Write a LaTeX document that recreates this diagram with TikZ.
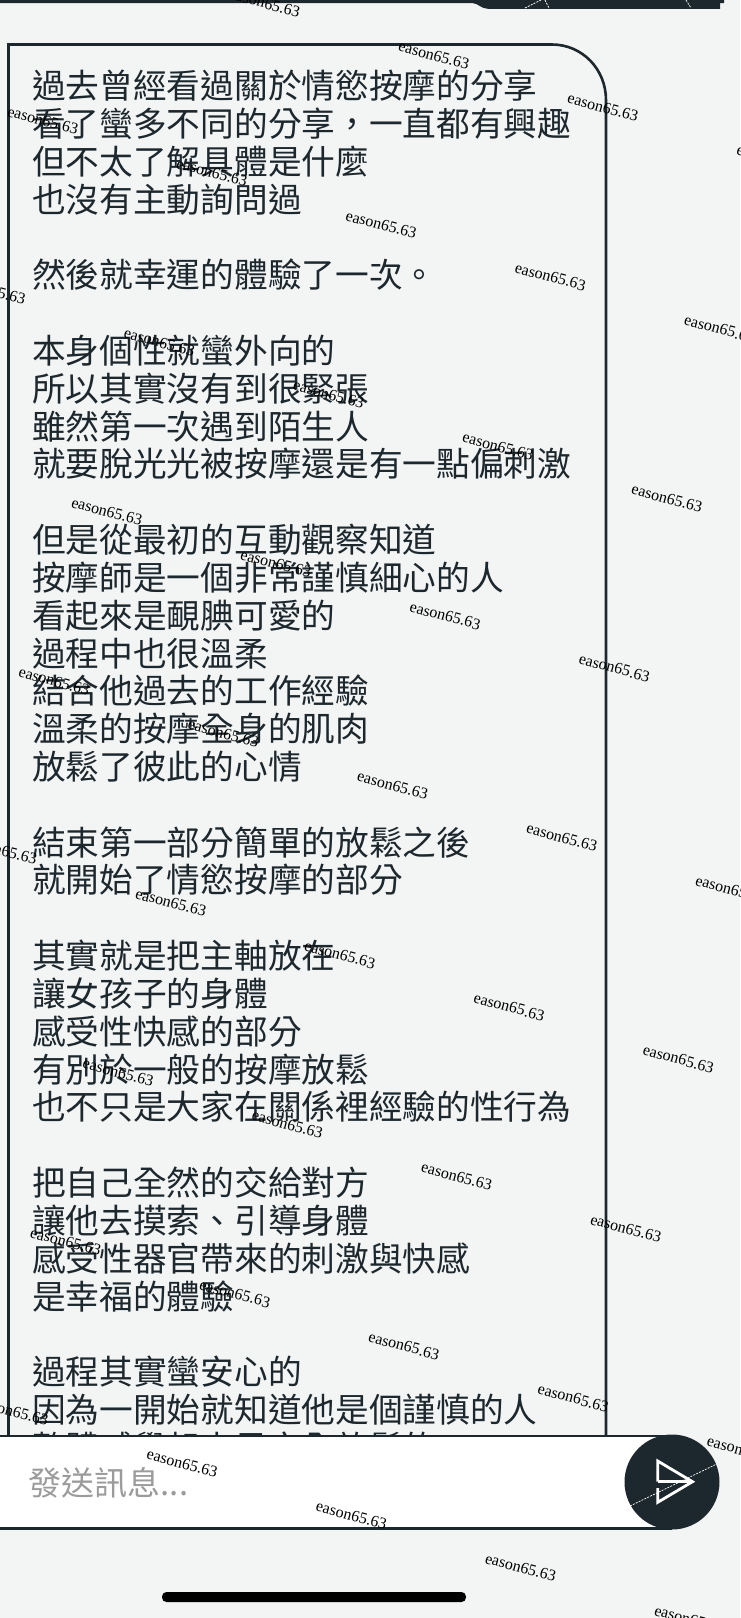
\documentclass[tikz,border=0pt]{standalone}
\usepackage{fontspec}
\usepackage{xcolor}
\setmainfont{Liberation Serif}
\newfontfamily\chatfont{Noto Sans CJK TC}
\definecolor{page-bg}{HTML}{F3F4F4}
\definecolor{ink}{HTML}{1D282E}
\definecolor{hint}{HTML}{9B9B9B}
\tikzset{
    chat-text/.style = {text=ink, inner sep=0pt, align=left, anchor=north west, font=\chatfont\fontsize{33.7}{37.82}\selectfont},
    input-hint/.style = {text=hint, inner sep=0pt, anchor=west, font=\chatfont\fontsize{33}{36}\selectfont},
    send-button/.style = {circle, fill=ink, minimum size=95pt, inner sep=0pt},
    send-icon/.style = {draw=white, line width=2.8pt, line join=miter},
    crack/.style = {draw=white, line width=0.7pt, dash pattern=on 2pt off 1.2pt},
    watermark/.style = {text=black, inner sep=0pt, rotate=-15, xshift=1.5pt, font=\fontsize{16}{16}\selectfont},
}
\begin{document}
\begin{tikzpicture}[x=1pt,y=-1pt]
\useasboundingbox (0,0) rectangle (740,1618);
\clip (0,0) rectangle (740,1618);
\fill[page-bg] (0,0) rectangle (740,1618);

\fill[ink] (0,0) -- (0,3.2) -- (473,3.2) .. controls (478,3.2) and (481,8.8) .. (488,8.8) -- (720,8.8) -- (720,3.2) -- (724,3.2) -- (724,0) -- cycle;
\draw[crack] (525,8) -- (541,0);
\draw[crack] (545,0) -- (549,8);
\draw[crack] (686,0) -- (691,8);

\draw[ink, line width=2.6pt] (8.5,1436) -- (8.5,44.5) -- (552,44.5) .. controls (582,44.5) and (606,69) .. (606,100) -- (606,1436);

\node[chat-text] (chat) at (32,70) {過去曾經看過關於情慾按摩的分享\\
看了蠻多不同的分享，一直都有興趣\\
但不太了解具體是什麼\\
也沒有主動詢問過\\
~\\
然後就幸運的體驗了一次。\\
~\\
本身個性就蠻外向的\\
所以其實沒有到很緊張\\
雖然第一次遇到陌生人\\
就要脫光光被按摩還是有一點偏刺激\\
~\\
但是從最初的互動觀察知道\\
按摩師是一個非常謹慎細心的人\\
看起來是靦腆可愛的\\
過程中也很溫柔\\
結合他過去的工作經驗\\
溫柔的按摩全身的肌肉\\
放鬆了彼此的心情\\
~\\
結束第一部分簡單的放鬆之後\\
就開始了情慾按摩的部分\\
~\\
其實就是把主軸放在\\
讓女孩子的身體\\
感受性快感的部分\\
有別於一般的按摩放鬆\\
也不只是大家在關係裡經驗的性行為\\
~\\
把自己全然的交給對方\\
讓他去摸索、引導身體\\
感受性器官帶來的刺激與快感\\
是幸福的體驗\\
~\\
過程其實蠻安心的\\
因為一開始就知道他是個謹慎的人\\
整體感覺起來是完全放鬆的};

\fill[white] (0,1436) rectangle (672,1528.5);
\draw[ink, line width=2.8pt] (0,1436) -- (672,1436);
\draw[ink, line width=2.8pt] (0,1528.5) -- (672,1528.5);
\node[input-hint] (hint) at (28.5,1483) {發送訊息...};

\node[send-button] (send) at (672,1482) {};
\draw[send-icon] (657.7,1481.7) -- (691.5,1481.7);
\draw[send-icon] (657.7,1481.7) -- (657.7,1461) -- (692.5,1481.7) -- (657.7,1502.3) -- (657.7,1488);
\draw[crack] (630,1506) -- (716.7,1464);

\fill[black, rounded corners=4.5pt] (162,1592) rectangle (466,1602);

\foreach \wx/\wy [count=\wn] in {263.2/2.6, 432.4/54.7, 601.6/106.8, 770.8/158.9,
    41.4/120, 210.6/172.1, 379.8/224.2, 549/276.3, 718.2/328.4,
    -11.2/289.5, 158/341.6, 327.2/393.7, 496.4/445.8, 665.6/497.9,
    105.4/511.1, 274.6/563.2, 443.8/615.3, 613/667.4,
    52.8/680.6, 222/732.7, 391.2/784.8, 560.4/836.9, 729.6/889,
    0.2/850.1, 169.4/902.2, 338.6/954.3, 507.8/1006.4, 677/1058.5,
    116.8/1071.7, 286/1123.8, 455.2/1175.9, 624.4/1228,
    64.2/1241.2, 233.4/1293.3, 402.6/1345.4, 571.8/1397.5, 741/1449.6,
    11.6/1410.7, 180.8/1462.8, 350/1514.9, 519.2/1567, 688.4/1619.1, 128.2/1632.3}
    \node[watermark] (mark\wn) at (\wx,\wy) {eason65.63};
\end{tikzpicture}
\end{document}
